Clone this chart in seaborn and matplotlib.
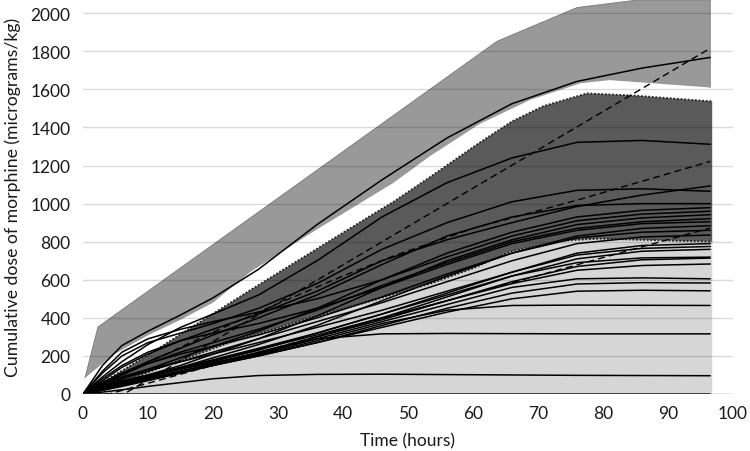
import numpy as np
import pandas as pd
import matplotlib
matplotlib.use("Agg")
import matplotlib.pyplot as plt
import seaborn as sns

# ---------------- data ----------------
hours = [0, 3, 6, 10, 15, 20, 27, 36, 46, 56, 66, 76, 86, 96.5]

# separate (high-dose) patient
pt_high = [0, 150, 255, 330, 415, 505, 655, 890, 1125, 1345, 1525, 1642, 1712, 1768]

# individual patients (cumulative dose, micrograms/kg)
pt01 = [0, 90, 170, 260, 350, 420, 520, 700, 930, 1110, 1240, 1322, 1332, 1312]
pt02 = [0, 70, 140, 210, 280, 340, 420, 540, 700, 810, 900, 985, 1045, 1093]
pt03 = [0, 110, 200, 270, 320, 370, 450, 580, 760, 900, 1010, 1070, 1078, 1065]
pt04 = [0, 60, 110, 170, 240, 310, 400, 520, 680, 830, 930, 990, 1000, 1000]
pt05 = [0, 40, 80, 130, 190, 250, 330, 450, 600, 740, 850, 930, 965, 979]
pt06 = [0, 120, 220, 290, 340, 380, 430, 500, 600, 720, 830, 910, 945, 960]
pt07 = [0, 30, 60, 100, 150, 210, 290, 410, 560, 700, 810, 890, 925, 942]
pt08 = [0, 50, 100, 160, 220, 270, 340, 440, 570, 690, 800, 870, 905, 921]
pt09 = [0, 80, 150, 220, 280, 320, 370, 450, 560, 680, 790, 860, 895, 905]
pt10 = [0, 25, 50, 90, 140, 190, 260, 360, 490, 620, 740, 830, 870, 884]
pt11 = [0, 60, 110, 160, 210, 250, 310, 400, 510, 630, 740, 820, 850, 860]
pt12 = [0, 40, 80, 120, 170, 220, 290, 380, 480, 590, 700, 790, 825, 835]
pt13 = [0, 30, 60, 90, 130, 170, 230, 320, 420, 530, 640, 740, 780, 790]
pt14 = [0, 50, 90, 130, 170, 210, 270, 350, 440, 540, 640, 730, 765, 775]
pt15 = [0, 20, 45, 75, 115, 155, 210, 300, 400, 510, 620, 710, 750, 760]
pt16 = [0, 40, 70, 100, 140, 180, 240, 320, 420, 520, 620, 690, 715, 719]
pt17 = [0, 25, 50, 80, 120, 160, 220, 300, 390, 490, 590, 670, 705, 714]
pt18 = [0, 30, 60, 95, 135, 175, 235, 310, 400, 490, 580, 650, 675, 683]
pt19 = [0, 35, 65, 95, 130, 165, 215, 290, 380, 470, 560, 605, 610, 605]
pt20 = [0, 20, 45, 75, 110, 150, 200, 270, 360, 450, 530, 578, 585, 583]
pt21 = [0, 25, 50, 80, 115, 150, 200, 270, 350, 430, 500, 540, 545, 542]
pt22 = [0, 30, 55, 85, 120, 155, 205, 280, 370, 440, 465, 467, 466, 465]
pt23 = [0, 20, 40, 70, 110, 150, 210, 290, 316, 318, 317, 316, 316, 316]
pt24 = [0, 10, 22, 40, 60, 80, 97, 103, 104, 102, 100, 98, 97, 96]
pt25 = [0, 0, 0, 0, 0, 0, 0, 0, 0, 0, 0, 0, 0, 0]
patients = [pt01, pt02, pt03, pt04, pt05, pt06, pt07, pt08, pt09, pt10, pt11, pt12,
            pt13, pt14, pt15, pt16, pt17, pt18, pt19, pt20, pt21, pt22, pt23, pt24, pt25]

# dashed curves
ref_steep_t = [0, 6.3, 96.5]
ref_steep_v = [0, 0, 1816]
ref_mid_t = [0, 10, 20, 30, 40, 48, 60, 76.5, 96.5]
ref_mid_v = [0, 165, 325, 475, 620, 728, 870, 1023, 1222]
ref_low_t = [0, 4, 96.5]
ref_low_v = [0, 0, 872]

# high-dose band
hb_up_t = [0.3, 2.3, 63.7, 76, 85.4, 96.5]
hb_up_v = [84, 352, 1853, 2030, 2070, 2070]
hb_lo_t = [0.3, 4.6, 9.8, 15, 20, 25.7, 36, 47.7, 53.4, 61, 68.8, 76.5, 81, 96.5]
hb_lo_v = [84, 205, 305, 390, 480, 640, 865, 1108, 1250, 1418, 1545, 1632, 1649, 1610]

# main dark band
db_up_t = [0, 10, 25.7, 40.6, 48, 53.4, 61, 66, 70.8, 77.5, 84.6, 96.8]
db_up_v = [0, 205, 545, 860, 1015, 1140, 1320, 1432, 1512, 1579, 1568, 1537]
db_lo_t = [0, 6, 12, 22.6, 35, 45, 53.4, 60, 65.7, 73.4, 79.5, 96.8]
db_lo_v = [0, 60, 140, 270, 400, 495, 579, 660, 747, 805, 816, 800]

xticks = [0, 10, 20, 30, 40, 50, 60, 70, 80, 90, 100]
yticks = [0, 200, 400, 600, 800, 1000, 1200, 1400, 1600, 1800, 2000]

# ---------------- plot ----------------
sns.set_theme(style="white")
plt.rcParams["font.family"] = ["Lato", "DejaVu Sans"]

fig = plt.figure(figsize=(7.5, 4.52), dpi=100)
ax = fig.add_axes([83 / 750, 1 - 395 / 452, 650 / 750, 395 / 452])

light_c = "#d6d6d6"
dark_c = "#5a5a5a"
mid_c = "#999999"

# light band: 0 .. lower edge of dark band
ax.fill(db_lo_t + [96.8, 0], db_lo_v + [0, 0], color=light_c, lw=0, zorder=1)
# dark band
ax.fill(db_up_t + db_lo_t[::-1], db_up_v + db_lo_v[::-1], color=dark_c, lw=0, zorder=1)
# high-dose band
ax.fill(hb_up_t + hb_lo_t[::-1], hb_up_v + hb_lo_v[::-1], color=mid_c, lw=0, zorder=1)
ax.plot(hb_up_t + [96.5], hb_up_v + [1610], color="#777777", lw=0.6, zorder=1.5)

# dotted edges of dark band
ax.plot(db_up_t, db_up_v, color="#222222", lw=1.3, ls=(0, (1, 1)), zorder=3)
ax.plot(db_lo_t, db_lo_v, color="#222222", lw=1.3, ls=(0, (1, 1)), zorder=3)

# patient curves
rows = []
for i, p in enumerate(patients + [pt_high]):
    for t, v in zip(hours, p):
        rows.append({"pid": i, "t": t, "v": v})
df = pd.DataFrame(rows)
sns.lineplot(data=df, x="t", y="v", units="pid", estimator=None, color="black",
             lw=1.1, ax=ax, zorder=4, legend=False)

# dashed curves
for tt, vv in [(ref_steep_t, ref_steep_v), (ref_mid_t, ref_mid_v), (ref_low_t, ref_low_v)]:
    ax.plot(tt, vv, color="black", lw=1.0, ls=(0, (5, 3)), zorder=5)

ax.set_xlim(0, 100)
ax.set_ylim(0, 2075)
ax.set_xticks(xticks)
ax.set_yticks(yticks)
ax.yaxis.grid(True, color="black", alpha=0.15, lw=1.0, zorder=6)
ax.set_axisbelow(False)
for s in ax.spines.values():
    s.set_visible(False)
ax.axhline(0, color="#9a9a9a", lw=1.0, zorder=6)
ax.tick_params(axis="both", length=0, labelsize=12.5, colors="#1a1a1a")
ax.tick_params(axis="y", pad=9)
ax.tick_params(axis="x", pad=8)
ax.set_xlabel("Time (hours)", fontsize=12.5, color="#1a1a1a", labelpad=8)
ax.set_ylabel("Cumulative dose of morphine (micrograms/kg)", fontsize=12.7,
              color="#1a1a1a", labelpad=7)

fig.savefig("out.png", dpi=100)
